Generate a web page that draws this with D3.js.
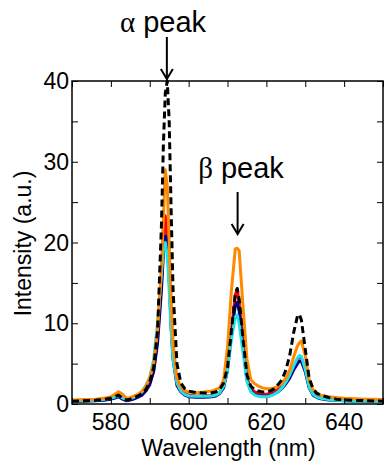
<!DOCTYPE html>
<html>
<head>
<meta charset="utf-8">
<script src="https://cdn.jsdelivr.net/npm/d3@7"></script>
<style>
  html, body { margin: 0; padding: 0; background: #fff; }
  svg { display: block; }
  text { font-family: Arial, "Liberation Sans", sans-serif; fill: #000; }
</style>
</head>
<body>
<svg id="chart" width="385" height="461"></svg>
<script>
// Emission spectra: wavelength grid (nm) and intensity for each sample (a.u.)
const wavelength = [570, 573, 576, 578, 580, 581, 582, 583, 584, 585, 586, 587, 588, 589, 590, 591, 592, 593, 593.5, 594, 594.5, 595, 595.5, 596, 597, 598, 599, 600, 602, 604, 606, 607, 608, 609, 610, 611, 612, 612.5, 613, 614, 615, 616, 617, 618, 619, 620, 621, 622, 623, 624, 625, 626, 627, 628, 628.5, 629, 630, 631, 632, 633, 634, 636, 638, 640, 643, 646, 650];

const seriesRed = [0.35, 0.4, 0.45, 0.5, 0.65, 0.8, 1.0, 0.7, 0.45, 0.55, 0.7, 0.9, 1.2, 1.7, 2.6, 4.2, 8, 15, 20, 23.3, 21, 16, 10, 6, 2.6, 1.7, 1.3, 1.1, 1.0, 1.0, 1.05, 1.15, 1.4, 2.2, 4.5, 9, 13.5, 14.2, 12.5, 7.5, 3.2, 1.9, 1.5, 1.3, 1.2, 1.2, 1.3, 1.5, 1.8, 2.2, 2.8, 3.6, 4.6, 5.5, 5.8, 5.7, 4.2, 2.2, 1.3, 0.9, 0.75, 0.6, 0.5, 0.45, 0.4, 0.35, 0.3];

const seriesNavy = [0.3, 0.35, 0.4, 0.45, 0.6, 0.75, 0.9, 0.6, 0.4, 0.5, 0.65, 0.85, 1.1, 1.6, 2.4, 4.0, 7.5, 14, 18.5, 20.8, 20.4, 15.5, 9.5, 5.5, 2.3, 1.5, 1.1, 0.9, 0.85, 0.85, 0.9, 1.0, 1.3, 2.0, 4.2, 8.5, 12.2, 12.6, 11.5, 7, 3.0, 1.6, 1.2, 1.05, 0.95, 0.95, 1.05, 1.25, 1.5, 1.9, 2.5, 3.2, 4.2, 5.0, 5.3, 5.3, 4.0, 2.0, 1.1, 0.8, 0.65, 0.5, 0.45, 0.4, 0.35, 0.3, 0.3];

const seriesCyan = [0.35, 0.4, 0.45, 0.55, 0.7, 0.85, 1.05, 0.75, 0.5, 0.65, 0.85, 1.1, 1.5, 2.3, 3.3, 5.5, 10, 16, 19, 20, 18.5, 14, 9, 5.5, 2.6, 1.6, 1.2, 1.0, 0.95, 0.95, 1.0, 1.1, 1.4, 2.2, 4.2, 8, 10.8, 11.0, 10, 6.3, 2.8, 1.5, 1.1, 0.95, 0.9, 0.9, 1.0, 1.2, 1.5, 2.0, 2.7, 3.6, 4.7, 5.7, 6.0, 5.9, 4.3, 2.1, 1.2, 0.85, 0.7, 0.55, 0.45, 0.4, 0.35, 0.35, 0.3];

const seriesOrange = [0.5, 0.55, 0.6, 0.7, 0.9, 1.2, 1.5, 1.2, 0.7, 0.8, 1.0, 1.2, 1.6, 2.2, 3.2, 5.0, 9, 17, 23, 29, 27, 20, 13, 7.5, 3.2, 2.1, 1.7, 1.5, 1.4, 1.5, 1.6, 1.8, 2.0, 3.0, 7, 14, 19.2, 19.3, 19.0, 12, 5.5, 3.0, 2.5, 2.2, 2.0, 1.9, 1.9, 2.0, 2.2, 2.6, 3.2, 4.2, 5.8, 7.2, 7.6, 7.8, 6.0, 3.0, 1.8, 1.3, 1.1, 0.9, 0.8, 0.7, 0.65, 0.6, 0.55];

const seriesRef = [0.35, 0.4, 0.45, 0.55, 0.7, 0.9, 1.1, 0.7, 0.5, 0.6, 0.8, 1.0, 1.3, 1.8, 2.7, 4.5, 9, 22, 32, 38.5, 40, 35, 24, 14, 5, 2.6, 1.9, 1.6, 1.4, 1.35, 1.4, 1.5, 1.8, 2.6, 4.5, 9, 13.6, 14.3, 13, 8, 3.6, 2.2, 1.8, 1.6, 1.5, 1.5, 1.6, 1.9, 2.4, 3.0, 4.2, 6.0, 8.8, 10.9, 11.1, 10.4, 6.8, 3.2, 1.9, 1.3, 1.1, 0.8, 0.6, 0.5, 0.45, 0.4, 0.35];

const xTicks = [570, 580, 590, 600, 610, 620, 630, 640, 650];
const xTickLabels = [580, 600, 620, 640];
const yTicks = [0, 5, 10, 15, 20, 25, 30, 35, 40];
const yTickLabels = [0, 10, 20, 30, 40];

const series = [
  { name: "red", values: seriesRed, color: "#ff0000", dash: null },
  { name: "navy", values: seriesNavy, color: "#000090", dash: null },
  { name: "cyan", values: seriesCyan, color: "#1ee3e6", dash: null },
  { name: "orange", values: seriesOrange, color: "#ff8a00", dash: null },
  { name: "reference", values: seriesRef, color: "#000000", dash: "7,4" }
];

const svg = d3.select("#chart");
const margin = { left: 72, top: 81, right: 2, bottom: 57 };
const W = 385, H = 461;
const x0 = margin.left, x1 = W - margin.right;
const y0 = margin.top, y1 = H - margin.bottom;

const x = d3.scaleLinear().domain([570, 650]).range([x0, x1]);
const y = d3.scaleLinear().domain([0, 40]).range([y1, y0]);

svg.append("defs").append("clipPath").attr("id", "plot-clip")
  .append("rect").attr("x", x0).attr("y", y0 - 2).attr("width", x1 - x0).attr("height", y1 - y0 + 2);

// spectra
const line = d3.line().x((d, i) => x(wavelength[i])).y(d => y(d));
const g = svg.append("g").attr("clip-path", "url(#plot-clip)");
series.forEach(s => {
  g.append("path")
    .datum(s.values)
    .attr("fill", "none")
    .attr("stroke", s.color)
    .attr("stroke-width", 3)
    .attr("stroke-linejoin", "round")
    .attr("stroke-dasharray", s.dash)
    .attr("d", line);
});

// inward ticks on all four sides
const tickLen = 6;
const axisBottom = d3.axisBottom(x).tickValues(xTicks).tickSize(-tickLen).tickFormat("");
const axisTop = d3.axisTop(x).tickValues(xTicks).tickSize(-tickLen).tickFormat("");
const axisLeft = d3.axisLeft(y).tickValues(yTicks).tickSize(-tickLen).tickFormat("");
const axisRight = d3.axisRight(y).tickValues(yTicks).tickSize(-tickLen).tickFormat("");

function styleAxis(sel) {
  sel.select(".domain").remove();
  sel.selectAll(".tick line").attr("stroke", "#000").attr("stroke-width", 1);
}
svg.append("g").attr("transform", `translate(0,${y1})`).call(axisBottom).call(styleAxis);
svg.append("g").attr("transform", `translate(0,${y0})`).call(axisTop).call(styleAxis);
svg.append("g").attr("transform", `translate(${x0},0)`).call(axisLeft).call(styleAxis);
svg.append("g").attr("transform", `translate(${x1},0)`).call(axisRight).call(styleAxis);

// frame
svg.append("rect")
  .attr("x", x0).attr("y", y0).attr("width", x1 - x0).attr("height", y1 - y0)
  .attr("fill", "none").attr("stroke", "#000").attr("stroke-width", 1.5);

// tick labels
svg.append("g").selectAll("text").data(xTickLabels).join("text")
  .attr("x", d => x(d)).attr("y", y1 + 26)
  .attr("text-anchor", "middle").attr("font-size", 23)
  .text(d => d);
svg.append("g").selectAll("text").data(yTickLabels).join("text")
  .attr("x", x0 - 3).attr("y", d => y(d) + 8)
  .attr("text-anchor", "end").attr("font-size", 23)
  .text(d => d);

// axis titles
svg.append("text")
  .attr("x", (x0 + x1) / 2 + 1).attr("y", 456)
  .attr("text-anchor", "middle").attr("font-size", 23)
  .text("Wavelength (nm)");
svg.append("text")
  .attr("transform", `translate(31,${(170 + 317) / 2}) rotate(-90)`)
  .attr("text-anchor", "middle").attr("font-size", 23)
  .text("Intensity (a.u.)");

// peak annotations with arrows
function arrow(xv, ya, yb) {
  const xp = x(xv);
  svg.append("line").attr("x1", xp).attr("x2", xp).attr("y1", ya).attr("y2", yb - 1)
    .attr("stroke", "#000").attr("stroke-width", 2);
  svg.append("path")
    .attr("d", `M${xp - 6},${yb - 10} L${xp},${yb} L${xp + 6},${yb - 10}`)
    .attr("fill", "none").attr("stroke", "#000").attr("stroke-width", 2);
}
function peakLabel(cx, by, greek) {
  const t = svg.append("text").attr("x", cx).attr("y", by)
    .attr("text-anchor", "middle").attr("font-size", 29);
  t.append("tspan").attr("font-family", "'Liberation Serif', 'DejaVu Serif', serif").text(greek);
  t.append("tspan").text(" peak");
}
peakLabel(163, 32, "α");
arrow(594.4, 37, 79);
peakLabel(241, 178, "β");
arrow(612.6, 192, 234);
</script>
</body>
</html>
